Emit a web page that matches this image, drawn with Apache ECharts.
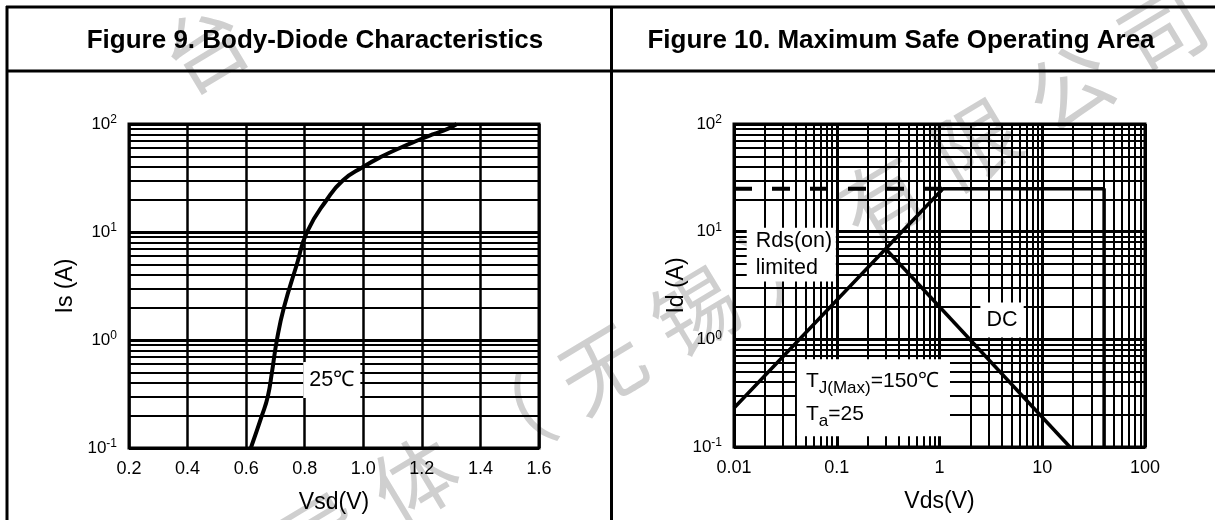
<!DOCTYPE html>
<html>
<head>
<meta charset="utf-8">
<title>Body-Diode Characteristics / Maximum Safe Operating Area</title>
<script src="https://cdn.jsdelivr.net/npm/echarts@6.0.0/dist/echarts.min.js"></script>
<style>
  html, body { margin: 0; padding: 0; background: #fff; }
  #chart { width: 1215px; height: 520px; }
</style>
</head>
<body>
<div id="chart"></div>
<script>
// ---------- Figure 9: body-diode forward characteristic (25 °C) ----------
const diodeVsd = [0.616, 0.654, 0.674, 0.688, 0.705, 0.729, 0.773, 0.808, 0.876, 0.930,
                  0.999, 1.063, 1.125, 1.183, 1.237, 1.288, 1.319];
const diodeIs  = [0.1, 0.2, 0.3, 0.5, 1, 2, 5, 10, 20, 30,
                  40, 50, 60, 70, 80, 90, 100];

// ---------- Figure 10: maximum safe operating area ----------
// Rds(on) limit, package current limit, then the breakdown-voltage edge
const soaVds   = [0.01, 1.08, 40, 40];
const soaId    = [0.23, 25, 25, 0.1];
// dashed current ceiling to the left of the Rds(on) corner
const ceilVds  = [0.01, 1.08];
const ceilId   = [25, 25];
// DC operation line
const dcVds    = [0.3, 18.6];
const dcId     = [6.9, 0.1];

// gridline levels between the decades
const currentMinor = [0.2, 0.3, 0.4, 0.5, 0.6, 0.7, 0.8, 0.9,
                      2, 3, 4, 5, 6, 7, 8, 9,
                      20, 30, 40, 50, 60, 70, 80, 90];
const vdsMinor = [0.02, 0.03, 0.04, 0.05, 0.06, 0.07, 0.08, 0.09,
                  0.2, 0.3, 0.4, 0.5, 0.6, 0.7, 0.8, 0.9,
                  2, 3, 4, 5, 6, 7, 8, 9,
                  20, 30, 40, 50, 60, 70, 80, 90];

// panel headings and annotation texts
const titles = ['Figure 9. Body-Diode Characteristics', 'Figure 10. Maximum Safe Operating Area'];
const diodeNoteText = ['25℃'];
const soaNoteText = ['Rds(on)\nlimited', 'DC', '{n|T}{s|J(Max)}{n|=150℃}\n{n|T}{s|a}{n|=25}'];
const watermarkLine = ['导', '体', '（', '无', '锡', '）', '有', '限', '公', '司'];
const watermarkCorner = ['台'];

// ---------- layout ----------
const FONT = '"Liberation Sans", Arial, Helvetica, sans-serif';
const CJK = '"Noto Sans CJK SC", sans-serif';

// white annotation boxes in data units: [x0, y0, x1, y1]
const diodeNoteBoxes = [[0.795, 0.29, 0.99, 0.625]];
const soaNoteBoxes = [[0.0133, 3.44, 0.098, 10.9], [2.5, 1.04, 6.6, 2.2], [0.041, 0.126, 1.265, 0.653]];
const diodeNoteAlign = ['center'];
const soaNoteAlign = ['left', 'center', 'left'];

const zip = (xs, ys) => xs.map((x, i) => [x, ys[i]]);

const tickRich = {
  b: { fontSize: 17, fontFamily: FONT, color: '#000' },
  e: { fontSize: 12, fontFamily: FONT, color: '#000', padding: [0, 0, 8, 0] }
};
const logLabel = v => '{b|10}{e|' + Math.round(Math.log10(v)) + '}';
const vdsLabel = v => v >= 1 ? String(Math.round(v)) : String(+v.toPrecision(1));

function gridLines(xRange, yRange, xLevels, yLevels) {
  const out = [];
  yLevels.forEach(v => out.push({ coords: [[xRange[0], v], [xRange[1], v]] }));
  xLevels.forEach(v => out.push({ coords: [[v, yRange[0]], [v, yRange[1]]] }));
  return out;
}

function noteSeries(idx, boxes, texts, aligns) {
  return {
    type: 'custom', xAxisIndex: idx, yAxisIndex: idx, z: 2, silent: true,
    data: boxes,
    renderItem(params, api) {
      const i = params.dataIndex;
      const p0 = api.coord([api.value(0), api.value(3)]);
      const p1 = api.coord([api.value(2), api.value(1)]);
      const left = aligns[i] === 'left';
      return {
        type: 'group',
        children: [
          { type: 'rect', shape: { x: p0[0], y: p0[1], width: p1[0] - p0[0], height: p1[1] - p0[1] },
            style: { fill: '#fff' } },
          { type: 'text',
            x: left ? p0[0] + 9 : (p0[0] + p1[0]) / 2,
            y: (p0[1] + p1[1]) / 2,
            style: {
              text: texts[i], fill: '#000', fontSize: 21.5, fontFamily: FONT, lineHeight: 27,
              align: left ? 'left' : 'center', verticalAlign: 'middle',
              rich: {
                n: { fontSize: 21, fontFamily: FONT, lineHeight: 33, fill: '#000' },
                s: { fontSize: 17, fontFamily: FONT, lineHeight: 33, fill: '#000', padding: [14, 0, 0, 0] }
              }
            } }
        ]
      };
    }
  };
}

const axisName = { fontSize: 23, fontFamily: FONT, color: '#000' };
const tickText = { fontSize: 18, fontFamily: FONT, color: '#000' };

const frameLines = [
  [6, 7, 1215, 7], [6, 71, 1215, 71], [7, 6, 7, 520], [611.5, 6, 611.5, 520]
].map(s => ({ type: 'line', z: 50, shape: { x1: s[0], y1: s[1], x2: s[2], y2: s[3] },
              style: { stroke: '#000', lineWidth: 3 }, silent: true }));

// faint company watermark, laid under the drawing
const rot = 31 * Math.PI / 180;
const wmStyle = { fill: '#cfcfcf', fontSize: 84, fontFamily: CJK, align: 'center', verticalAlign: 'middle' };

const option = {
  animation: false,
  backgroundColor: '#fff',
  grid: [
    { left: 129, top: 124, width: 410, height: 324, show: true, borderColor: '#000', borderWidth: 3, backgroundColor: 'transparent' },
    { left: 734, top: 124, width: 411, height: 323, show: true, borderColor: '#000', borderWidth: 3, backgroundColor: 'transparent' }
  ],
  xAxis: [
    { type: 'value', gridIndex: 0, min: 0.2, max: 1.6, interval: 0.2,
      axisLine: { show: false }, axisTick: { show: false },
      splitLine: { show: true, lineStyle: { color: '#000', width: 2.5 } },
      axisLabel: Object.assign({ margin: 12, formatter: v => v.toFixed(1) }, tickText),
      name: 'Vsd(V)', nameLocation: 'middle', nameGap: 43, nameTextStyle: axisName },
    { type: 'log', logBase: 10, gridIndex: 1, min: 0.01, max: 100,
      axisLine: { show: false }, axisTick: { show: false },
      splitLine: { show: true, lineStyle: { color: '#000', width: 3 } },
      axisLabel: Object.assign({ margin: 12, formatter: vdsLabel }, tickText),
      name: 'Vds(V)', nameLocation: 'middle', nameGap: 43, nameTextStyle: axisName }
  ],
  yAxis: [
    { type: 'log', logBase: 10, gridIndex: 0, min: 0.1, max: 100,
      axisLine: { show: false }, axisTick: { show: false },
      splitLine: { show: true, lineStyle: { color: '#000', width: 3 } },
      axisLabel: { margin: 12, formatter: logLabel, rich: tickRich },
      name: 'Is (A)', nameLocation: 'middle', nameGap: 52, nameTextStyle: axisName },
    { type: 'log', logBase: 10, gridIndex: 1, min: 0.1, max: 100,
      axisLine: { show: false }, axisTick: { show: false },
      splitLine: { show: true, lineStyle: { color: '#000', width: 3 } },
      axisLabel: { margin: 12, formatter: logLabel, rich: tickRich },
      name: 'Id (A)', nameLocation: 'middle', nameGap: 45, nameTextStyle: axisName }
  ],
  series: [
    // minor grid, Figure 9
    { type: 'lines', coordinateSystem: 'cartesian2d', xAxisIndex: 0, yAxisIndex: 0, z: 1, silent: true,
      data: gridLines([0.2, 1.6], [0.1, 100], [], currentMinor),
      lineStyle: { color: '#000', width: 2, opacity: 1, curveness: 0 } },
    // minor grid, Figure 10
    { type: 'lines', coordinateSystem: 'cartesian2d', xAxisIndex: 1, yAxisIndex: 1, z: 1, silent: true,
      data: gridLines([0.01, 100], [0.1, 100], vdsMinor, currentMinor),
      lineStyle: { color: '#000', width: 2, opacity: 1, curveness: 0 } },
    noteSeries(0, diodeNoteBoxes, diodeNoteText, diodeNoteAlign),
    noteSeries(1, soaNoteBoxes, soaNoteText, soaNoteAlign),
    { type: 'line', name: '25℃', xAxisIndex: 0, yAxisIndex: 0, z: 3, silent: true,
      data: zip(diodeVsd, diodeIs), smooth: 0.5, symbol: 'none',
      lineStyle: { color: '#000', width: 4 } },
    { type: 'line', name: 'SOA', xAxisIndex: 1, yAxisIndex: 1, z: 3, silent: true,
      data: zip(soaVds, soaId), symbol: 'none',
      lineStyle: { color: '#000', width: 3.5 } },
    { type: 'line', name: 'Ceiling', xAxisIndex: 1, yAxisIndex: 1, z: 3, silent: true,
      data: zip(ceilVds, ceilId), symbol: 'none',
      lineStyle: { color: '#000', width: 4, type: [18, 20] } },
    { type: 'line', name: 'DC', xAxisIndex: 1, yAxisIndex: 1, z: 3, silent: true,
      data: zip(dcVds, dcId), symbol: 'none',
      lineStyle: { color: '#000', width: 3.5 } }
  ],
  graphic: {
    elements: [
      { type: 'group', x: 415, y: 480, rotation: rot, z: -10, silent: true,
        children: watermarkLine.map((c, i) => ({ type: 'text', x: (i - 1) * 109, y: 0, z: -10,
          style: Object.assign({ text: c }, wmStyle) })) },
      { type: 'group', x: 205, y: 48, rotation: rot, z: -10, silent: true,
        children: watermarkCorner.map((c, i) => ({ type: 'text', x: i * 109, y: 0, z: -10,
          style: Object.assign({ text: c }, wmStyle) })) },
      { type: 'text', x: 315, y: 41, z: 50, silent: true,
        style: { text: titles[0], fill: '#000', fontSize: 26, fontWeight: 'bold', fontFamily: FONT, align: 'center', verticalAlign: 'middle' } },
      { type: 'text', x: 901, y: 41, z: 50, silent: true,
        style: { text: titles[1], fill: '#000', fontSize: 26, fontWeight: 'bold', fontFamily: FONT, align: 'center', verticalAlign: 'middle' } },
      ...frameLines
    ]
  }
};

const chart = echarts.init(document.getElementById('chart'), null, { renderer: 'canvas' });
chart.setOption(option);
</script>
</body>
</html>
